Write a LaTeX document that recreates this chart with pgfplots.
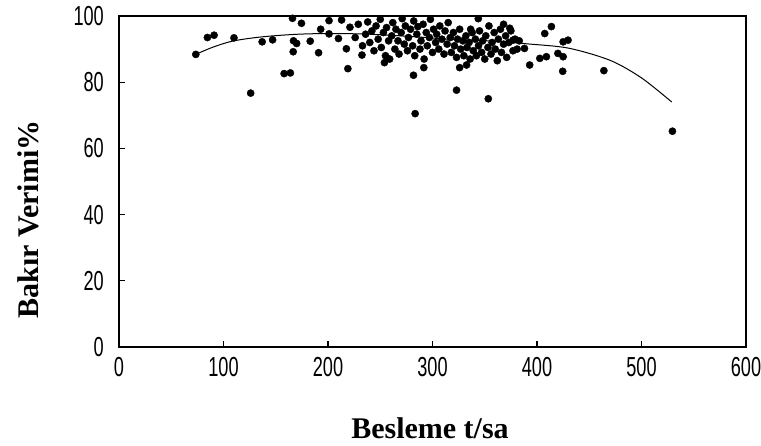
\documentclass[border=0pt]{standalone}
\usepackage{fontspec}
\setmainfont{Liberation Serif}
\newfontfamily\narrowsans[FakeStretch=0.66]{Liberation Sans}
\usepackage{pgfplots}
\pgfplotsset{compat=1.18}

\begin{document}
\begin{tikzpicture}
\begin{axis}[
    name=ax,
    scale only axis,
    width=627pt, height=331pt,
    xmin=0, xmax=600, ymin=0, ymax=100,
    xtick={0,100,...,600}, ytick={0,20,...,100},
    xtick pos=bottom, ytick pos=left,
    tick align=inside, major tick length=6pt,
    axis line style={line width=1.6pt},
    every tick/.style={black, line width=1.2pt},
    /pgf/number format/assume math mode=true,
    tick label style={font=\fontsize{27.5}{28}\selectfont\narrowsans, inner sep=0pt},
    xticklabel style={anchor=north, yshift=-10pt},
    yticklabel style={anchor=east, xshift=-15pt},
    xlabel={Besleme t/sa},
    ylabel={Bakır Verimi\%},
    label style={font=\fontsize{30}{32}\selectfont\bfseries},
    xlabel style={at={(axis description cs:0.496,-0.245)}, anchor=center},
    ylabel style={at={(axis description cs:-0.145,0.385)}, anchor=center},
    clip=false,
]
% fitted curve
\addplot[black, line width=1pt, smooth] coordinates {
    (72,88.2) (90,90.6) (110,92.5) (140,93.8) (180,94.6) (230,94.6)
    (280,93.8) (320,92.9) (360,92.4) (390,91.6) (430,90.3) (470,86.6)
    (500,81.3) (529,74)
};
% measured points
\addplot[only marks, mark=*, mark size=3.6pt, black] coordinates {
    (73.5,88.4) (84.6,93.5) (91,94.2) (110,93.4) (126,76.7)
    (137,92.2) (147,92.8) (158,82.6) (164,82.8) (166,99.3) (174.6,97.8)
    (167,92.5) (170,91.7) (166.7,89.2) (183,92.4) (191,88.9) (193,96)
    (201,98.6) (201,94.6) (210,93.2) (213,98.8) (217.6,90.1) (219,84.1)
    (221,96.6) (232.5,88.2) (254,85.9) (281.8,82.1) (291.7,84.4)
    (283.4,70.5) (323,77.6) (353.4,75) (326,84.4) (332.6,85.2)
    (336.5,96) (343.8,99.2) (368,97.5)
    (374,96.3) (377,92.7) (388,90.2) (407.4,94.7) (413.8,96.8) (393,85.2)
    (402.7,87.2) (409,87.7) (420,88.7) (425,87.7) (425,92.2) (429.7,92.7)
    (424.6,83.3) (464,83.5) (529.6,65.2)
    (226,93.5) (229,97.5) (233,91.0) (236,94.5) (238,98.2) (240,92.0)
    (242,95.5) (244,89.5) (246,97.0) (248,93.0) (250,99.0) (251,90.5)
    (253,95.0) (255,88.0) (256,96.5) (258,92.5) (259,87.0)
    (261,94.0) (262,98.0) (264,90.0) (265,96.0) (267,92.5) (268,88.5)
    (270,95.0) (271,99.2) (273,91.5) (274,97.0) (276,89.5) (277,93.5) (279,96.0)
    (281,91.0) (282,98.5) (283,88.0) (285,94.5) (286,96.8) (288,90.0)
    (289,92.5) (291,97.5) (292,87.0) (294,95.0) (295,91.0) (297,93.5)
    (298,99.0) (300,89.0)
    (301,96.0) (303,92.0) (304,94.5) (306,90.0) (307,97.0) (309,93.0)
    (311,88.5) (312,95.5) (314,91.5) (315,98.0) (317,93.5) (318,89.0) (320,95.0)
    (321,91.0) (323,87.5) (324,93.0) (326,96.0) (327,90.0) (329,92.5)
    (330,88.0) (332,94.0) (333,90.5) (335,92.0) (336,87.0) (338,95.0) (339,89.5)
    (341,93.0) (342,88.0) (344,91.0) (345,95.5) (347,89.0) (348,92.5)
    (350,87.0) (351,94.0) (353,90.5) (354,97.0) (356,88.5) (357,92.0) (359,95.0)
    (360,90.0) (362,86.5) (363,93.0) (365,96.0) (366,89.0) (368,91.5)
    (370,94.0) (371,87.5) (373,92.0) (375,95.5) (377,89.5) (379,93.0)
    (381,90.0) (383,92.5)
};
\end{axis}
\pgfresetboundingbox
\path (ax.south west) ++(-119pt,-98pt) rectangle ++(761pt,445pt);
\end{tikzpicture}
\end{document}
